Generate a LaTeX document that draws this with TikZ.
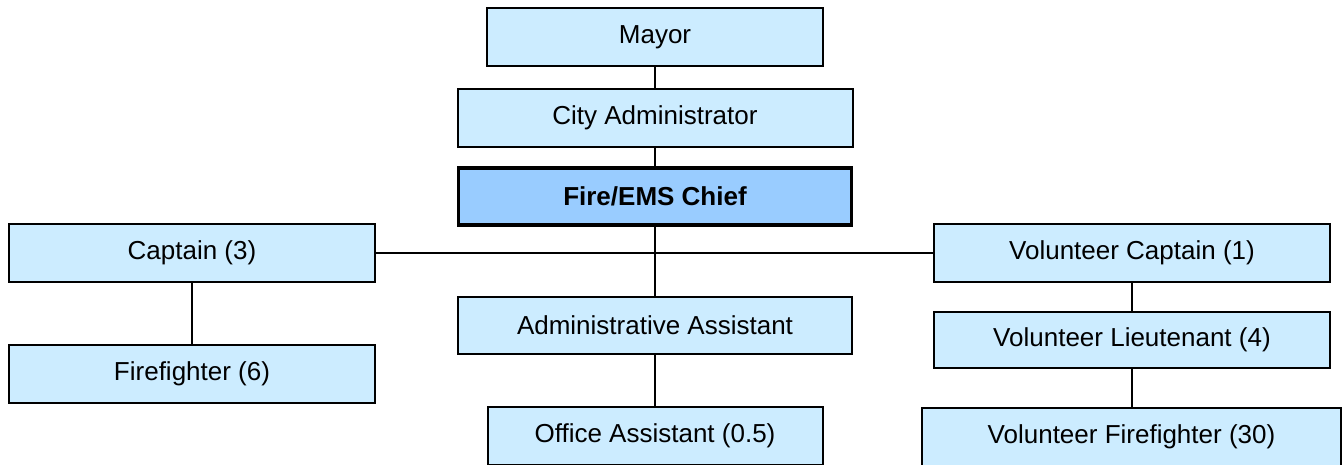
\documentclass[tikz,border=0pt]{standalone}
\usepackage{fontspec}
\setmainfont{Liberation Sans}
\definecolor{boxfill}{HTML}{CCECFF}
\definecolor{chieffill}{HTML}{99CCFF}
\begin{document}
\begin{tikzpicture}[x=1pt,y=-1pt,
  box/.style={draw=black, fill=boxfill, line width=2pt, rectangle, inner sep=0pt,
    font=\fontsize{26}{30}\selectfont},
  chiefbox/.style={box, fill=chieffill, line width=3.5pt, font=\fontsize{26}{30}\selectfont\bfseries},
  link/.style={draw=black, line width=2pt}]
\useasboundingbox (0,0) rectangle (1342,464);
\clip (0,0) rectangle (1342,464);
\node[box, minimum width=336pt, minimum height=58pt] (mayor) at (655,37) {Mayor};
\node[box, minimum width=395pt, minimum height=58pt] (city) at (655,118) {City Administrator};
\node[chiefbox, minimum width=393pt, minimum height=57pt] (chief) at (655,196.5) {Fire/EMS Chief};
\node[box, minimum width=366pt, minimum height=58pt] (cap) at (192,253) {Captain (3)};
\node[box, minimum width=366pt, minimum height=58pt] (ff) at (192,374) {Firefighter (6)};
\node[box, minimum width=394pt, minimum height=57pt] (admin) at (655,325.5) {Administrative Assistant};
\node[box, minimum width=335pt, minimum height=58pt] (office) at (655,436) {Office Assistant (0.5)};
\node[box, minimum width=396pt, minimum height=58pt] (vcap) at (1132,253) {Volunteer Captain (1)};
\node[box, minimum width=396pt, minimum height=56pt] (vlt) at (1132,340) {Volunteer Lieutenant (4)};
\node[box, minimum width=419pt, minimum height=58pt] (vff) at (1131.5,437) {Volunteer Firefighter (30)};
\draw[link] (mayor.south) -- (city.north);
\draw[link] (city.south) -- (chief.north);
\draw[link] (chief.south) -- (admin.north);
\draw[link] (cap.east) -- (vcap.west);
\draw[link] (cap.south) -- (ff.north);
\draw[link] (admin.south) -- (office.north);
\draw[link] (vcap.south) -- (vlt.north);
\draw[link] (vlt.south) -- (vff.north -| vlt.south);
\end{tikzpicture}
\end{document}
